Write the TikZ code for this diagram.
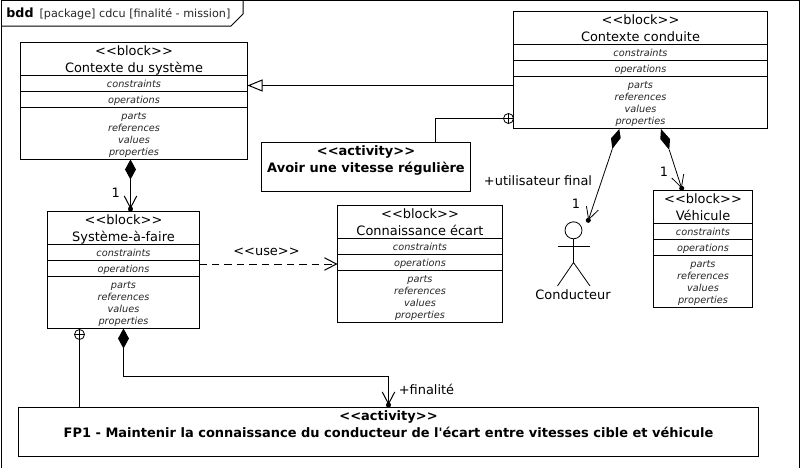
\documentclass[tikz,border=0pt]{standalone}
\usepackage{fontspec}
\setmainfont{DejaVu Sans}
\usetikzlibrary{arrows.meta}

\tikzset{
  umlline/.style={draw=black,line width=0.75pt},
  slantline/.style={draw=black,line width=0.6pt},
  blockframe/.style={draw=black,line width=0.75pt,fill=white,inner sep=0pt,outer sep=0pt},
  blocktext/.style={inner sep=0pt,anchor=base,font=\fontsize{9.7pt}{11pt}\selectfont},
  compartext/.style={inner sep=0pt,anchor=base,text=black!85,font=\fontsize{7.3pt}{9pt}\selectfont\itshape},
  boldtext/.style={inner sep=0pt,anchor=base,font=\fontsize{9.74pt}{11pt}\selectfont\bfseries},
  owned/.style={circle,draw=black,line width=0.6pt,fill=white,inner sep=0pt,outer sep=0pt,minimum size=7.5pt,
    path picture={\draw[line width=0.6pt] (path picture bounding box.north) -- (path picture bounding box.south)
      (path picture bounding box.west) -- (path picture bounding box.east);}},
  enddot/.style={circle,fill=black,inner sep=0pt,outer sep=0pt,minimum size=3.8pt},
  barb/.style={-{Straight Barb[length=9pt,width=9.4pt]}},
  composed/.style={{Diamond[length=15pt,width=8.2pt]}-{Straight Barb[length=9pt,width=9.4pt]}},
}

% name, left, top, width, title
\newcommand{\umlblock}[5]{
  \node[blockframe,minimum width=#4*0.75pt,minimum height=87.75pt] (#1) at (#2+#4/2,#3+58.5) {};
  \draw[umlline] (#2,#3+33) -- ++(#4,0);
  \draw[umlline] (#2,#3+49) -- ++(#4,0);
  \draw[umlline] (#2,#3+65) -- ++(#4,0);
  \node[blocktext] (#1-stereo) at (#2+#4/2,#3+12.8) {<{}<block>{}>};
  \node[blocktext] (#1-title) at (#2+#4/2,#3+29.7) {#5};
  \node[compartext] (#1-constraints) at (#2+#4/2,#3+44.7) {constraints};
  \node[compartext] (#1-operations) at (#2+#4/2,#3+60.8) {operations};
  \node[compartext] (#1-parts) at (#2+#4/2,#3+76.5) {parts};
  \node[compartext] (#1-references) at (#2+#4/2,#3+88.5) {references};
  \node[compartext] (#1-values) at (#2+#4/2,#3+100.5) {values};
  \node[compartext] (#1-properties) at (#2+#4/2,#3+112.5) {properties};
}

\begin{document}
\begin{tikzpicture}[x=0.75pt,y=0.75pt,yscale=-1,xscale=1]
\useasboundingbox (0,0) rectangle (801,468);

% Frame
\draw[umlline] (1.5,468) -- (1.5,0.5) -- (799.5,0.5) -- (799.5,468);
\draw[umlline] (1.5,26) -- (231,26) -- (243,14) -- (243,0.5);
\node[inner sep=0pt,anchor=base,font=\fontsize{9.5pt}{11pt}\selectfont\bfseries] (frame-kind) at (20,17.3) {bdd};
\node[inner sep=0pt,anchor=base,text=black!85,font=\fontsize{8.4pt}{10pt}\selectfont] (frame-name) at (135,17.3) {[package] cdcu [finalité - mission]};

% Blocks
\umlblock{ctxsys}{20.5}{42.5}{227}{Contexte du système}
\umlblock{ctxcond}{513.5}{11.5}{254}{Contexte conduite}
\umlblock{sysfaire}{47.5}{211.5}{152}{Système-à-faire}
\umlblock{connecart}{337.5}{205.5}{165}{Connaissance écart}
\umlblock{vehicule}{653.5}{190.5}{99}{Véhicule}

% Activities
\node[blockframe,minimum width=156.75pt,minimum height=36.75pt] (avoir) at (366,167) {};
\node[boldtext] (avoir-stereo) at (366,155.7) {<{}<activity>{}>};
\node[boldtext] (avoir-title) at (366,172.8) {Avoir une vitesse régulière};
\node[blockframe,minimum width=555pt,minimum height=36.75pt] (fpun) at (388.5,432) {};
\node[boldtext] (fpun-stereo) at (388.5,420.7) {<{}<activity>{}>};
\node[boldtext] (fpun-title) at (388.5,437.8) {FP1 - Maintenir la connaissance du conducteur de l\textquotesingle écart entre vitesses cible et véhicule};

% Actor
\node[circle,draw=black,line width=0.6pt,inner sep=0pt,outer sep=0pt,minimum size=12.75pt] (head) at (573.5,230.3) {};
\coordinate (hip) at (573.5,262.5);
\coordinate (armleft) at (557.5,246.5);
\coordinate (armright) at (590,246.5);
\coordinate (footleft) at (557.5,286);
\coordinate (footright) at (590,286);
\draw[umlline] (head.south) -- (hip);
\draw[umlline] (armleft) -- (armright);
\draw[slantline] (footleft) -- (hip) -- (footright);
\node[blocktext] (actor) at (573,299.3) {Conducteur};

% Connectors
\coordinate (genrow) at (0,85.5);
\draw[umlline,-{Triangle[open,fill=white,length=11.25pt,width=9pt]}] (ctxcond.west |- genrow) -- (ctxsys.east |- genrow);

\node[owned] (ownavoir) at (508.5,118.5) {};
\draw[umlline] (ownavoir.west) -| (435.5,142.5);
\node[owned] (ownfp) at (79.5,334.5) {};
\draw[umlline] (ownfp.south) -- (ownfp.south |- fpun.north);

\node[enddot] (dotsys) at (130.5,209) {};
\draw[umlline,composed] (ctxsys.south -| dotsys) -- (dotsys.center);
\node[enddot] (dotfp) at (388.5,405) {};
\coordinate (cmpfp) at (123.5,0);
\coordinate (cmprow) at (0,376.5);
\draw[umlline,composed] (sysfaire.south -| cmpfp) -- (cmprow -| cmpfp) -- (cmprow -| dotfp) -- (dotfp.center);

\fill (619.3,129) -- (620.7,138) -- (612.3,149) -- (611,138.3) -- cycle;
\coordinate (cmpactor) at (612.3,149);
\node[enddot] (dotactor) at (588.3,220.3) {};
\draw[slantline,barb] (cmpactor) -- (dotactor.center);
\fill (661,129) -- (670,139) -- (669.3,150) -- (660.3,139) -- cycle;
\coordinate (cmpveh) at (669.3,150);
\node[enddot] (dotveh) at (681.7,188.3) {};
\draw[slantline,barb] (cmpveh) -- (dotveh.center);

\draw[umlline,dash pattern=on 5.6pt off 3.75pt,-{Straight Barb[length=9pt,width=9.4pt]}] (sysfaire.east |- connecart.west) -- (connecart.west);

% Labels
\node[blocktext] (mult-sys) at (115.7,197.7) {1};
\node[blocktext] (mult-actor) at (576,208.7) {1};
\node[blocktext] (mult-veh) at (664,176.7) {1};
\node[blocktext] (role-actor) at (538,185.3) {+utilisateur final};
\node[blocktext] (role-fp) at (426.5,394) {+finalité};
\node[blocktext] (use-label) at (266.5,255) {<{}<use>{}>};

\end{tikzpicture}
\end{document}
